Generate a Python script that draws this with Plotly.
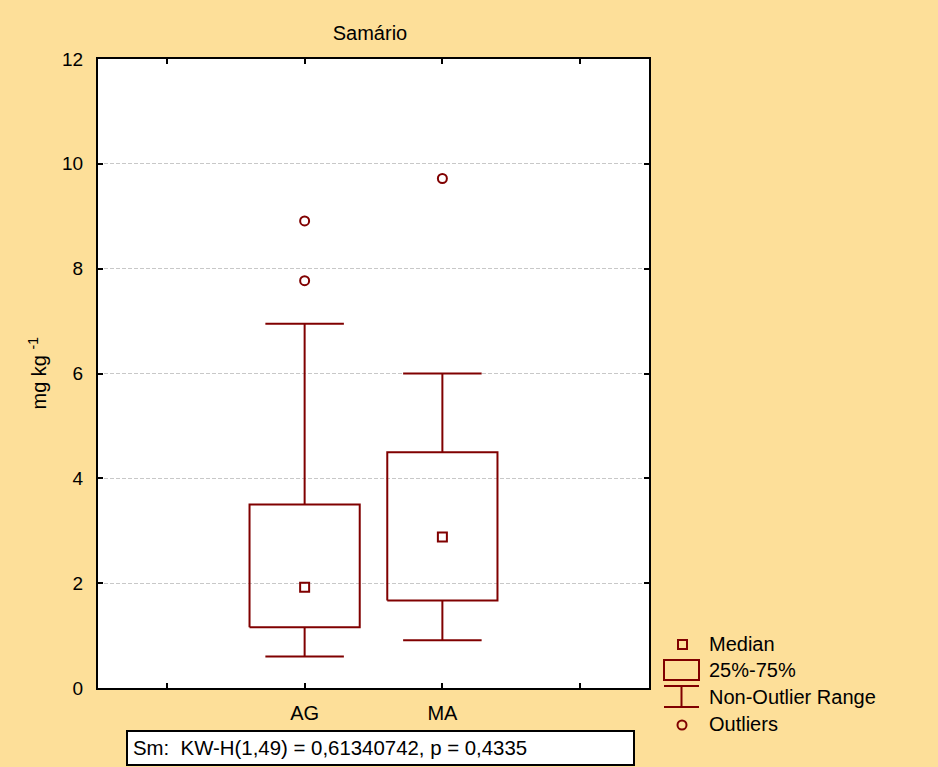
import plotly.graph_objects as go

# Box-plot summary for samarium (Sm) by group
groups = ["AG", "MA"]
positions = [0, 1]
lower_whisker = [0.60, 0.91]
q1 = [1.16, 1.67]
median = [1.92, 2.88]
q3 = [3.50, 4.50]
upper_whisker = [6.95, 6.00]
outliers = {"AG": [7.77, 8.91], "MA": [9.72]}

x_extra_ticks = [-1, 2]
y_ticks = [0, 2, 4, 6, 8, 10, 12]

stat_text = "Sm:  KW-H(1,49) = 0,61340742, p = 0,4335"
legend_labels = ["Median", "25%-75%", "Non-Outlier Range", "Outliers"]

RED = "#800000"
BG = "#FDDF99"
FONT = "Liberation Sans, Arial, sans-serif"
FS = 20
W, H = 938, 767
ML, MR, MT, MB = 98, 289, 59, 79
BOX_HALF = 0.40
CAP_HALF = 0.285

fig = go.Figure()

for g, x, lo, a, m, b, hi in zip(groups, positions, lower_whisker, q1, median, q3, upper_whisker):
    # 25%-75% box
    fig.add_trace(go.Scatter(
        x=[x - BOX_HALF, x + BOX_HALF, x + BOX_HALF, x - BOX_HALF, x - BOX_HALF],
        y=[a, a, b, b, a], mode="lines",
        line=dict(color=RED, width=2), hoverinfo="skip", showlegend=False))
    # whiskers with caps
    fig.add_trace(go.Scatter(
        x=[x, x, None, x - CAP_HALF, x + CAP_HALF, None, x, x, None, x - CAP_HALF, x + CAP_HALF],
        y=[b, hi, None, hi, hi, None, a, lo, None, lo, lo], mode="lines",
        line=dict(color=RED, width=2), hoverinfo="skip", showlegend=False))
    # median
    fig.add_trace(go.Scatter(
        x=[x], y=[m], mode="markers",
        marker=dict(symbol="square-open", size=9, color=RED, line=dict(width=2, color=RED)),
        showlegend=False, name=g))
    # outliers
    fig.add_trace(go.Scatter(
        x=[x] * len(outliers[g]), y=outliers[g], mode="markers",
        marker=dict(symbol="circle-open", size=9, color=RED, line=dict(width=2, color=RED)),
        showlegend=False, name=g))


def px(xp):
    return (xp - ML) / (W - ML - MR)


def py(yp):
    return (H - MB - yp) / (H - MT - MB)


shapes = []
annotations = []

# legend drawn in the right margin
lw = dict(color=RED, width=2)
shapes.append(dict(type="rect", xref="paper", yref="paper",
                   x0=px(678), x1=px(687), y0=py(649), y1=py(640), line=lw))
shapes.append(dict(type="rect", xref="paper", yref="paper",
                   x0=px(664), x1=px(699), y0=py(680), y1=py(660), line=lw))
shapes.append(dict(type="line", xref="paper", yref="paper",
                   x0=px(664), x1=px(699), y0=py(686), y1=py(686), line=lw))
shapes.append(dict(type="line", xref="paper", yref="paper",
                   x0=px(664), x1=px(699), y0=py(707), y1=py(707), line=lw))
shapes.append(dict(type="line", xref="paper", yref="paper",
                   x0=px(681.5), x1=px(681.5), y0=py(686), y1=py(707), line=lw))
shapes.append(dict(type="circle", xref="paper", yref="paper",
                   x0=px(677.5), x1=px(686.5), y0=py(729.5), y1=py(720.5), line=lw))
for label, yc in zip(legend_labels, [644, 670, 697, 724]):
    annotations.append(dict(text=label, xref="paper", yref="paper", x=px(707), y=py(yc),
                            xanchor="left", yanchor="middle", showarrow=False,
                            font=dict(size=FS, color="black", family=FONT)))

# statistic box under the axis
shapes.append(dict(type="rect", xref="paper", yref="paper",
                   x0=px(127), x1=px(634), y0=py(765), y1=py(731),
                   line=dict(color="black", width=2), fillcolor="white"))
annotations.append(dict(text=stat_text, xref="paper", yref="paper", x=px(131), y=py(748),
                        xanchor="left", yanchor="middle", showarrow=False,
                        font=dict(size=20.4, color="black", family=FONT)))

# y-axis title
annotations.append(dict(text="mg kg <sup>-1</sup>", xref="paper", yref="paper",
                        x=px(37), y=0.5, xanchor="center", yanchor="middle",
                        textangle=-90, showarrow=False,
                        font=dict(size=FS, color="black", family=FONT)))

fig.update_layout(
    width=W, height=H,
    margin=dict(l=ML, r=MR, t=MT, b=MB, pad=0),
    paper_bgcolor=BG, plot_bgcolor="white",
    font=dict(family=FONT, size=FS, color="black"),
    title=dict(text="Samário", x=px(370), xref="paper", xanchor="center",
               y=1 - 33 / H, yanchor="middle", font=dict(size=FS, family=FONT)),
    shapes=shapes, annotations=annotations,
    showlegend=False,
)
fig.update_xaxes(
    range=[-1.5, 2.5], tickvals=positions, ticktext=groups,
    showgrid=False, zeroline=False,
    showline=True, linecolor="black", linewidth=2, mirror="ticks",
    ticks="inside", ticklen=5, tickwidth=1.5, tickcolor="black",
    minor=dict(tickvals=x_extra_ticks, ticks="inside", ticklen=5, tickwidth=1.5,
               tickcolor="black", showgrid=False),
    ticklabelstandoff=6,
    tickfont=dict(size=FS, family=FONT),
)
fig.update_yaxes(
    range=[0, 12], tickvals=y_ticks,
    showgrid=True, gridcolor="#C8C8C8", gridwidth=1, griddash="4px,2px",
    zeroline=False,
    showline=True, linecolor="black", linewidth=2, mirror="ticks",
    ticks="inside", ticklen=5, tickwidth=1.5, tickcolor="black",
    ticklabelstandoff=9,
    tickfont=dict(size=19, family=FONT),
)

fig.write_html("out.html")
